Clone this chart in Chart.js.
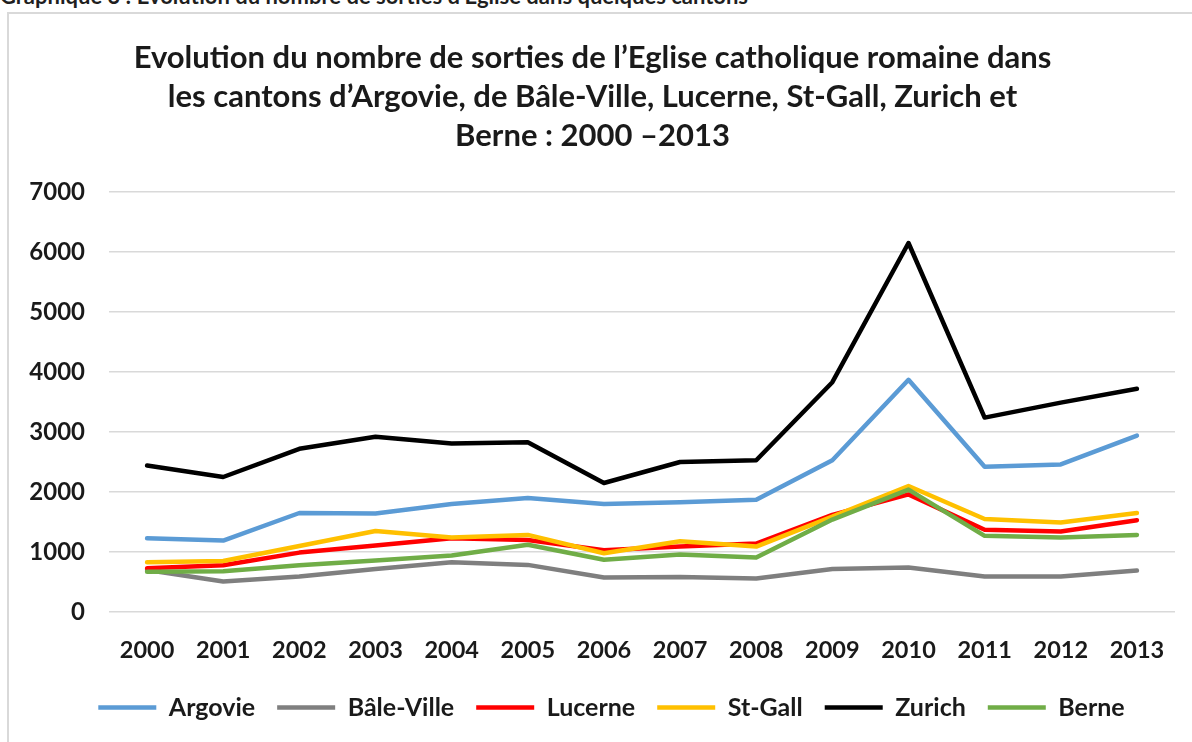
<!DOCTYPE html>
<html lang="fr">
<head>
<meta charset="utf-8">
<title>Sorties de l'Eglise catholique</title>
<script src="https://cdn.jsdelivr.net/npm/chart.js@4/dist/chart.umd.min.js"></script>
<style>
  body { margin: 0; background: #fff; width: 1192px; height: 742px; overflow: hidden; position: relative; font-family: Lato, sans-serif; }
  .caption { position: absolute; left: 0; top: -18px; font: bold 22px Lato, sans-serif; color: #1f1f1f; white-space: nowrap; }
  .frame { position: absolute; left: 7px; top: 12px; width: 1300px; height: 800px; border: 2px solid #d9d9d9; }
  .chart-box { position: absolute; left: 10px; top: 15px; width: 1182px; height: 727px; }
</style>
</head>
<body>
<div class="caption">Graphique 3 : Evolution du nombre de sorties d'Eglise dans quelques cantons</div>
<div class="frame"></div>
<div class="chart-box"><canvas id="sortiesChart"></canvas></div>
<script>
// années
const years = ['2000', '2001', '2002', '2003', '2004', '2005', '2006', '2007', '2008', '2009', '2010', '2011', '2012', '2013'];

// sorties par canton
const argovie = [1230, 1190, 1650, 1640, 1800, 1900, 1800, 1830, 1870, 2530, 3870, 2420, 2460, 2940];
const baleVille = [700, 510, 590, 715, 830, 785, 575, 585, 560, 715, 740, 590, 590, 690];
const lucerne = [730, 780, 990, 1110, 1230, 1200, 1030, 1090, 1140, 1620, 1960, 1370, 1340, 1530];
const stGall = [830, 850, 1100, 1350, 1240, 1285, 980, 1180, 1090, 1590, 2100, 1550, 1490, 1650];
const zurich = [2440, 2250, 2720, 2920, 2810, 2830, 2150, 2500, 2530, 3830, 6150, 3240, 3490, 3720];
const berne = [670, 680, 780, 860, 940, 1120, 870, 960, 910, 1540, 2040, 1270, 1240, 1285];

const yTicks = [0, 1000, 2000, 3000, 4000, 5000, 6000, 7000];

const titleLines = [
  'Evolution du nombre de sorties de l\u2019Eglise catholique romaine dans',
  'les cantons d\u2019Argovie, de Bâle-Ville, Lucerne, St-Gall, Zurich et',
  'Berne : 2000 \u20132013'
];

const series = [
  { label: 'Argovie', data: argovie, color: '#5B9BD5' },
  { label: 'Bâle-Ville', data: baleVille, color: '#7F7F7F' },
  { label: 'Lucerne', data: lucerne, color: '#FF0000' },
  { label: 'St-Gall', data: stGall, color: '#FFC000' },
  { label: 'Zurich', data: zurich, color: '#000000' },
  { label: 'Berne', data: berne, color: '#70AD47' }
];

const textColor = '#1a1a1a';

// la légende d'Excel est un peu décalée vers la droite
const legendShift = {
  id: 'legendShift',
  afterLayout(chart) {
    if (chart.legend) {
      chart.legend.left += 19;
      chart.legend.right += 19;
    }
  }
};

window.addEventListener('load', function () {
  const ctx = document.getElementById('sortiesChart');
  new Chart(ctx.getContext('2d'), {
    type: 'line',
    data: {
      labels: years,
      datasets: series.map((s, i) => ({
        label: s.label,
        data: s.data,
        borderColor: s.color,
        backgroundColor: s.color,
        borderWidth: 4.5,
        pointRadius: 0,
        tension: 0,
        borderJoinStyle: 'round',
        borderCapStyle: 'round',
        // les dernières séries passent au-dessus, comme dans Excel
        order: series.length - i
      }))
    },
    options: {
      responsive: true,
      maintainAspectRatio: false,
      animation: false,
      layout: { padding: { left: 0, right: 17, top: 0, bottom: 12 } },
      plugins: {
        title: {
          display: true,
          text: titleLines,
          color: textColor,
          font: { family: 'Lato', size: 31, weight: 'bold', lineHeight: 39 / 31 },
          padding: { top: 23, bottom: 37 }
        },
        legend: {
          position: 'bottom',
          labels: {
            color: textColor,
            font: { family: 'Lato', size: 25, weight: 'bold' },
            usePointStyle: true,
            pointStyle: 'line',
            pointStyleWidth: 58,
            boxHeight: 25,
            padding: 22,
            sort: (a, b) => a.datasetIndex - b.datasetIndex
          }
        },
        tooltip: { enabled: false }
      },
      scales: {
        x: {
          grid: { display: false },
          border: { display: false },
          offset: true,
          afterFit: (scale) => { scale.height = 61; },
          ticks: {
            color: textColor,
            font: { family: 'Lato', size: 23.5, weight: 'bold' },
            padding: 16,
            maxRotation: 0,
            autoSkip: false
          }
        },
        y: {
          min: 0,
          max: 7000,
          afterBuildTicks: (scale) => { scale.ticks = yTicks.map(v => ({ value: v })); },
          afterFit: (scale) => { scale.width = 99; },
          grid: { color: '#d9d9d9', lineWidth: 1.5, drawTicks: false },
          border: { display: false },
          ticks: {
            color: textColor,
            font: { family: 'Lato', size: 24, weight: 'bold' },
            padding: 24,
            callback: (v) => String(v)
          }
        }
      }
    },
    plugins: [legendShift]
  });
});
</script>
</body>
</html>
